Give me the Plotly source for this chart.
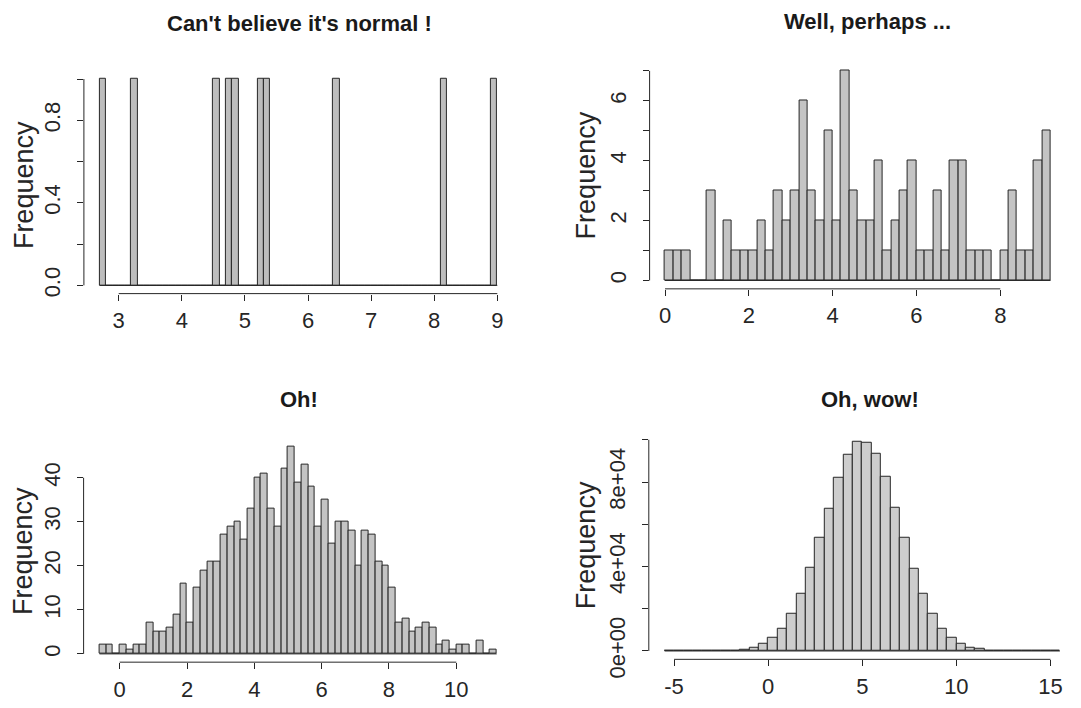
import plotly.graph_objects as go

# ---------------- data ----------------
titles = ["Can't believe it's normal !", "Well, perhaps ...", "Oh!", "Oh, wow!"]

# Panel 1: 10 observations, bins of width 0.1 starting at 2.7
p1_start = 2.7
p1_width = 0.1
p1_counts = [1, 0, 0, 0, 0, 1, 0, 0, 0, 0,
             0, 0, 0, 0, 0, 0, 0, 0, 1, 0,
             1, 1, 0, 0, 0, 1, 1, 0, 0, 0,
             0, 0, 0, 0, 0, 0, 0, 1, 0, 0,
             0, 0, 0, 0, 0, 0, 0, 0, 0, 0,
             0, 0, 0, 0, 1, 0, 0, 0, 0, 0,
             0, 0, 1]
p1_xticks = [3, 4, 5, 6, 7, 8, 9]
p1_yticks = [0, 0.2, 0.4, 0.6, 0.8, 1.0]
p1_ylabels = ["0.0", "", "0.4", "", "0.8", ""]

# Panel 2: 100 observations, bins of width 0.2 starting at 0
p2_start = 0.0
p2_width = 0.2
p2_counts = [1, 1, 1, 0, 0, 3, 0, 2, 1, 1,
             1, 2, 1, 3, 2, 3, 6, 3, 2, 5,
             2, 7, 3, 2, 2, 4, 1, 2, 3, 4,
             1, 1, 3, 1, 4, 4, 1, 1, 1, 0,
             1, 3, 1, 1, 4, 5]
p2_xticks = [0, 2, 4, 6, 8]
p2_yticks = [0, 1, 2, 3, 4, 5, 6, 7]
p2_ylabels = ["0", "", "2", "", "4", "", "6", ""]

# Panel 3: 1000 observations, bins of width 0.2 starting at -0.6
p3_start = -0.6
p3_width = 0.2
p3_counts = [2, 2, 0, 2, 1, 2, 2, 7, 5, 5,
             6, 9, 16, 7, 15, 19, 21, 21, 27, 29,
             30, 26, 33, 40, 41, 33, 29, 42, 47, 39,
             43, 38, 29, 35, 25, 30, 30, 28, 20, 28,
             27, 21, 20, 15, 7, 8, 5, 6, 7, 6,
             2, 3, 1, 2, 2, 0, 3, 0, 1]
p3_xticks = [0, 2, 4, 6, 8, 10]
p3_yticks = [0, 10, 20, 30, 40]
p3_ylabels = ["0", "10", "20", "30", "40"]

# Panel 4: ~1e6 observations, bins of width 0.5 starting at -5.5
p4_start = -5.5
p4_width = 0.5
p4_counts = [1, 1, 2, 5, 14, 45, 130, 330, 800, 1700,
             3400, 6300, 10400, 17700, 27000, 39300, 53600, 67400, 82200, 93100,
             98900, 98600, 93200, 82600, 68000, 53600, 39000, 27000, 17700, 10400,
             6300, 3200, 1700, 900, 340, 120, 50, 15, 4, 2,
             1, 1]
p4_xticks = [-5, 0, 5, 10, 15]
p4_yticks = [0, 20000, 40000, 60000, 80000, 100000]
p4_ylabels = ["0e+00", "", "4e+04", "", "8e+04", ""]

# ---------------- layout constants ----------------
W, H = 1081, 708
FONT = "Liberation Sans, Arial, sans-serif"
INK = "#262626"

panels = [
    dict(start=p1_start, width=p1_width, counts=p1_counts, xt=p1_xticks, yt=p1_yticks, yl=p1_ylabels,
         xd=(75.9, 505.2), yd=(64.5, 293.5), title_xy=(291, 16), freq_xy=(16, 182), fill="#bdbdbd"),
    dict(start=p2_start, width=p2_width, counts=p2_counts, xt=p2_xticks, yt=p2_yticks, yl=p2_ylabels,
         xd=(641.6, 1058.0), yd=(56.0, 288.6), title_xy=(859, 14), freq_xy=(578, 172), fill="#c4c4c4"),
    dict(start=p3_start, width=p3_width, counts=p3_counts, xt=p3_xticks, yt=p3_yticks, yl=p3_ylabels,
         xd=(75.6, 504.6), yd=(442.5, 672.2), title_xy=(291, 402), freq_xy=(15, 558), fill="#c4c4c4"),
    dict(start=p4_start, width=p4_width, counts=p4_counts, xt=p4_xticks, yt=p4_yticks, yl=p4_ylabels,
         xd=(640.8, 1067.7), yd=(437.5, 669.3), title_xy=(862, 402), freq_xy=(578, 552), fill="#cdcdcd"),
]

fig = go.Figure()
layout = dict(width=W, height=H, margin=dict(l=0, r=0, t=0, b=0),
              paper_bgcolor="white", plot_bgcolor="white", showlegend=False,
              font=dict(family=FONT, color=INK), bargap=0)
shapes = []
annotations = []

for i, p in enumerate(panels):
    k = "" if i == 0 else str(i + 1)
    xa, ya = "x" + k, "y" + k
    n = len(p["counts"])
    edges = [round(p["start"] + p["width"] * j, 6) for j in range(n + 1)]
    centers = [(edges[j] + edges[j + 1]) / 2 for j in range(n)]
    lo, hi = edges[0], edges[-1]
    xr = [lo - 0.04 * (hi - lo), hi + 0.04 * (hi - lo)]
    ymax = max(p["counts"])
    yr = [-0.04 * ymax, ymax * 1.04]

    # baseline where R draws zero-height bins
    fig.add_trace(go.Scatter(x=[lo, hi], y=[0, 0], mode="lines",
                             line=dict(color=INK, width=1), xaxis=xa, yaxis=ya,
                             hoverinfo="skip"))
    fig.add_trace(go.Bar(x=centers, y=p["counts"], width=[p["width"]] * n,
                         marker=dict(color=p["fill"], line=dict(color=INK, width=1)),
                         xaxis=xa, yaxis=ya))

    common = dict(showgrid=False, zeroline=False, showline=False, ticks="outside",
                  ticklen=6, tickwidth=1, tickcolor=INK,
                  tickfont=dict(family=FONT, size=22, color=INK))
    layout["xaxis" + k] = dict(domain=[p["xd"][0] / W, p["xd"][1] / W], range=xr,
                               anchor=ya, tickmode="array", tickvals=p["xt"],
                               ticktext=[str(v) for v in p["xt"]],
                               ticklabelstandoff=1, **common)
    layout["yaxis" + k] = dict(domain=[1 - p["yd"][1] / H, 1 - p["yd"][0] / H], range=yr,
                               anchor=xa, tickmode="array", tickvals=p["yt"],
                               ticktext=p["yl"], tickangle=-90,
                               ticklabelstandoff=8, **common)
    # R-style axis lines: only between first and last tick
    shapes.append(dict(type="line", xref=xa, yref=ya + " domain",
                       x0=p["xt"][0], x1=p["xt"][-1], y0=0, y1=0,
                       line=dict(color=INK, width=1)))
    shapes.append(dict(type="line", xref=xa + " domain", yref=ya,
                       x0=0, x1=0, y0=p["yt"][0], y1=p["yt"][-1],
                       line=dict(color=INK, width=1)))
    tx, ty = p["title_xy"]
    annotations.append(dict(text=titles[i], xref="paper", yref="paper",
                            x=tx / W, y=1 - ty / H, xanchor="center", yanchor="middle",
                            showarrow=False,
                            font=dict(family=FONT, size=22, color="#1a1a1a", weight="bold")))
    fx, fy = p["freq_xy"]
    annotations.append(dict(text="Frequency", xref="paper", yref="paper",
                            x=fx / W, y=1 - fy / H, xanchor="center", yanchor="middle",
                            textangle=-90, showarrow=False,
                            font=dict(family=FONT, size=27, color=INK)))

layout["shapes"] = shapes
layout["annotations"] = annotations
fig.update_layout(**layout)
fig.write_html("out.html")
